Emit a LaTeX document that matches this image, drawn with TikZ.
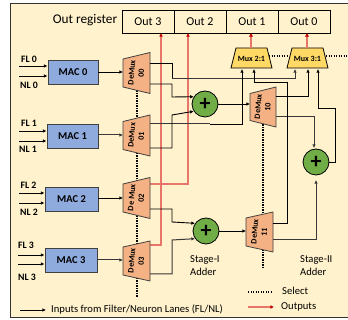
\documentclass[tikz,border=0pt]{standalone}
\usepackage{fontspec}
\setmainfont{Carlito}
\usetikzlibrary{arrows.meta,calc}
\definecolor{bgc}{HTML}{FFF2CC}
\definecolor{macc}{HTML}{8FAADC}
\definecolor{demc}{HTML}{F4B183}
\definecolor{muxc}{HTML}{FFD966}
\definecolor{addc}{HTML}{70AD47}
\definecolor{redl}{HTML}{E8756A}
\definecolor{redt}{HTML}{C00000}
\definecolor{edgec}{HTML}{404040}
\tikzset{
  wire/.style={draw=black,line width=0.9pt},
  greywire/.style={draw=black!78,line width=1pt},
  arr/.style={-{Latex[length=3.6pt,width=3.6pt]}},
  redwire/.style={draw=redl,line width=1.3pt},
  redarr/.style={redwire,-{Latex[length=3.6pt,width=3.8pt,color=redt]}},
  sel/.style={draw=black,line width=1.2pt,dash pattern=on 1.2pt off 1.3pt},
  macbox/.style={draw=edgec,fill=macc,line width=0.9pt,inner sep=0pt,font=\fontsize{10.5}{11}\selectfont\bfseries},
  outbox/.style={draw=black,line width=0.8pt,inner sep=0pt,font=\fontsize{12}{12}\selectfont,minimum height=23pt},
  adder/.style={circle,draw=black,fill=addc,line width=0.8pt,minimum size=26pt,inner sep=0pt,font=\fontsize{22}{22}\selectfont\bfseries},
  lane/.style={inner sep=0pt,font=\fontsize{9.8}{10}\selectfont\bfseries},
  lab/.style={inner sep=0pt,font=\fontsize{10.6}{13}\selectfont,align=left,anchor=west},
  demlab/.style={inner sep=0pt,rotate=85,align=center,font=\fontsize{8.2}{9.6}\selectfont\bfseries},
  muxlab/.style={inner sep=0pt,font=\fontsize{8}{9}\selectfont\bfseries},
}
% name, left x, right x, centre y, half height left, half height right, text
\newcommand{\demuxshape}[7]{%
  \draw[fill=demc,draw=edgec,line width=0.8pt] (#2,#4-#5) -- (#3,#4-#6) -- (#3,#4+#6) -- (#2,#4+#5) -- cycle;
  \node[demlab] (#1) at ({(#2+#3)/2},#4) {#7};
}
\newcommand{\muxshape}[5]{%
  \draw[fill=muxc,draw=black,line width=0.8pt] (#2+5,48) -- (#3-5,48) -- (#3,68) -- (#2,68) -- cycle;
  \node[muxlab] (#1) at ({(#2+#3)/2},#4) {#5};
}
\begin{document}
\begin{tikzpicture}[x=1pt,y=-1pt]
\useasboundingbox (0,0) rectangle (348,320);
\fill[white] (0,0) rectangle (348,320);
\draw[fill=bgc,draw=black!80,line width=0.8pt] (10,3) rectangle (349,317);

% output register
\node[inner sep=0pt,font=\fontsize{13.3}{14}\selectfont] (outreg) at (85,20) {Out register};
\node[outbox,minimum width=52pt] (o3) at (148,21.5) {Out 3};
\node[outbox,minimum width=52pt] (o2) at (200,21.5) {Out 2};
\node[outbox,minimum width=52pt] (o1) at (252,21.5) {Out 1};
\node[outbox,minimum width=52pt] (o0) at (304,21.5) {Out 0};

% MACs
\node[macbox,minimum width=50pt,minimum height=24pt] (mac0) at (73,72) {MAC 0};
\node[macbox,minimum width=51pt,minimum height=24pt] (mac1) at (72.5,136) {MAC 1};
\node[macbox,minimum width=53pt,minimum height=24pt] (mac2) at (71.5,199) {MAC 2};
\node[macbox,minimum width=52pt,minimum height=24pt] (mac3) at (71,260) {MAC 3};

% lane inputs
\coordinate (fl0) at (19,66); \coordinate (nl0) at (19,76);
\coordinate (fl1) at (19,131); \coordinate (nl1) at (19,141);
\coordinate (fl2) at (19,193); \coordinate (nl2) at (19,203);
\coordinate (fl3) at (18,255); \coordinate (nl3) at (18,264);
\draw[wire,arr] (fl0) -- (fl0 -| mac0.west);
\draw[wire,arr] (nl0) -- (nl0 -| mac0.west);
\draw[wire,arr] (fl1) -- (fl1 -| mac1.west);
\draw[wire,arr] (nl1) -- (nl1 -| mac1.west);
\draw[wire,arr] (fl2) -- (fl2 -| mac2.west);
\draw[wire,arr] (nl2) -- (nl2 -| mac2.west);
\draw[wire,arr] (fl3) -- (fl3 -| mac3.west);
\draw[wire,arr] (nl3) -- (nl3 -| mac3.west);
\node[lane] (tfl0) at (29,59) {FL 0};
\node[lane] (tnl0) at (29,85) {NL 0};
\node[lane] (tfl1) at (29,123) {FL 1};
\node[lane] (tnl1) at (28,149) {NL 1};
\node[lane] (tfl2) at (28.5,185) {FL 2};
\node[lane] (tnl2) at (29,212) {NL 2};
\node[lane] (tfl3) at (26,245) {FL 3};
\node[lane] (tnl3) at (27,277) {NL 3};

% named junctions
\coordinate (d00a) at (150,63); \coordinate (d00b) at (150,84);
\coordinate (d01a) at (150,124); \coordinate (d01b) at (150,148);
\coordinate (d02a) at (150,184); \coordinate (d02b) at (150,209);
\coordinate (d03a) at (150,245); \coordinate (d03b) at (150,274);
\coordinate (d10a) at (276,96); \coordinate (d10b) at (276,117);
\coordinate (d11a) at (273,223); \coordinate (d11b) at (273,240);
\coordinate (d00i) at (123,72); \coordinate (d01i) at (123,135);
\coordinate (d02i) at (123,198); \coordinate (d03i) at (123,260);
\coordinate (d10i) at (250,104); \coordinate (d11i) at (246,231);

% select lines (under the shapes)
\coordinate (selA) at (137,297);
\coordinate (selAt) at (137,88);
\coordinate (selB) at (263,268);
\coordinate (selBt) at (263,122);
\draw[sel] (selAt) -- (selA);
\draw[sel] (selBt) -- (selB);

% red output lines
\draw[redarr] (d03a) -- (161,245) -- (161,33);
\draw[redarr] (d02a) -- (188,184) -- (188,33);

% adders
\node[adder] (a1) at (205,104) {+};
\node[adder] (a2) at (206,231) {+};
\node[adder] (a3) at (316,162) {+};

% muxes
\muxshape{m21}{231}{272}{59}{Mux 2:1}
\muxshape{m31}{287}{328}{59}{Mux 3:1}
\coordinate (s1) at (269,56); \coordinate (s2) at (326,56);
\draw[sel] (s1) -- (288,56);
\draw[sel] (s2) -- (347,56);
\draw[redl,line width=2pt,-{Latex[length=3.6pt,width=4.5pt,color=redt]}] (251,48) -- (251,33);
\draw[redl,line width=2pt,-{Latex[length=3.6pt,width=4.5pt,color=redt]}] (307,48) -- (307,33);

% demuxes
\demuxshape{d00}{123}{150}{73}{14}{20.5}{DeMux\\00}
\demuxshape{d01}{123}{150}{135.5}{14}{20.5}{DeMux\\01}
\demuxshape{d02}{123}{150}{198}{14}{20.5}{De Mux\\02}
\demuxshape{d03}{123}{150}{261}{14}{20}{DeMux\\03}
\demuxshape{d10}{250}{276}{107}{13.5}{20}{DeMux\\10}
\demuxshape{d11}{246}{273}{232}{14}{20}{DeMux\\11}

% MAC to demux
\draw[wire,arr] (mac0.east |- d00i) -- (d00i);
\draw[greywire,arr] (mac1.east |- d01i) -- (d01i);
\draw[wire,arr] (mac2.east |- d02i) -- (d02i);
\draw[greywire,arr] (mac3.east |- d03i) -- (d03i);

% stage I
\draw[wire] (d00a) -- (172,63) -- (172,79);
\draw[greywire,arr] (172,79) -- (295,79) -- (295,69);
\draw[wire,arr] (d00b) -- (172,84) -- (172,97) -- (a1.147);
\draw[greywire] (d01a) -- (210,124);
\draw[wire,arr] (210,124) -- (242,124) -- (242,69);
\draw[wire,arr] (d01b) -- (172,148) -- (172,115) -- (a1.213);
\draw[wire,arr] (d02b) -- (172,209) -- (172,222) -- (a2.145);
\draw[greywire,arr] (d03b) -- (172,274) -- (172,240) -- (a2.215);
\draw[wire,arr] (a1.east) -- (d10i);
\draw[wire,arr] (a2.east) -- (d11i);

% stage II
\draw[wire,arr] (d10a) -- (308,96) -- (308,69);
\draw[greywire,arr] (d10b) -- (314,117) -- (314,148);
\draw[wire,arr] (a3.east) -- (335.5,162) -- (335.5,108) -- (318,108) -- (318,69);
\draw[wire,arr] (d11a) -- (287,223) -- (287,82) -- (254,82) -- (254,69);
\draw[greywire,arr] (d11b) -- (316,240) -- (a3.south |- 0,180);

% labels
\node[lab] (st1) at (190,266) {Stage-I\\Adder};
\node[lab] (st2) at (300,266) {Stage-II\\Adder};

% legend
\coordinate (lg1) at (20,310); \coordinate (lg1e) at (46,310);
\draw[wire,arr] (lg1) -- (lg1e);
\node[lab] (tinputs) at (51,309) {Inputs from Filter/Neuron Lanes (FL/NL)};
\coordinate (lg2) at (248,292); \coordinate (lg2e) at (271,292);
\draw[sel] (lg2) -- (lg2e);
\node[lab] (tselect) at (282,291) {Select};
\coordinate (lg3) at (248,307); \coordinate (lg3e) at (274,307);
\draw[redarr] (lg3) -- (lg3e);
\node[lab] (toutputs) at (281,307) {Outputs};
\end{tikzpicture}
\end{document}
